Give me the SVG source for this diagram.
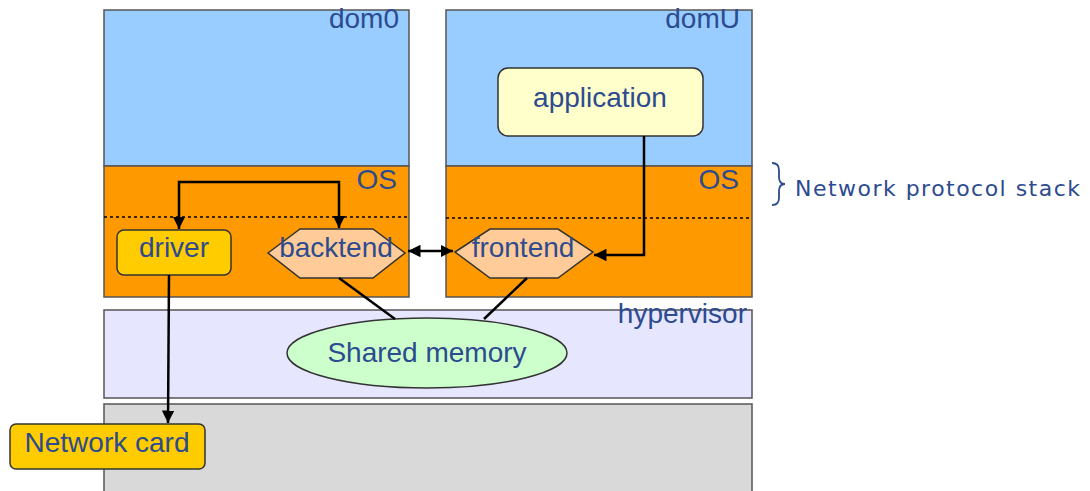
<svg xmlns="http://www.w3.org/2000/svg" width="1090" height="491" viewBox="0 0 1090 491">
<style>
  .box { stroke: #555; stroke-width: 1.5; }
  .node { stroke: #333; stroke-width: 1.5; }
  .lbl { font-family: "Liberation Sans", Arial, sans-serif; font-size: 28px; fill: #2d4b8f; }
  .ctr { text-anchor: middle; }
  .end { text-anchor: end; }
  .con { fill: none; stroke: #000; stroke-width: 2.5; }
  .dot { stroke: #000; stroke-width: 1.5; stroke-dasharray: 3 3; }
</style>
<defs>
  <marker id="arr" viewBox="0 0 10 10" refX="10" refY="5" markerWidth="5" markerHeight="5" orient="auto-start-reverse" markerUnits="strokeWidth">
    <path d="M0,0 L10,5 L0,10 Z" fill="#000"/>
  </marker>
</defs>
<rect width="1090" height="491" fill="#fff"/>

<g id="hardware">
  <rect class="box" x="104" y="404" width="648" height="92" fill="#d9d9d9"/>
</g>
<g id="hypervisor">
  <rect class="box" x="104" y="310" width="648" height="88" fill="#e6e6ff"/>
  <text class="lbl end" x="747" y="323">hypervisor</text>
</g>
<g id="dom0">
  <rect class="box" x="104" y="10" width="305" height="156" fill="#99ccff"/>
  <text class="lbl end" x="399" y="28">dom0</text>
</g>
<g id="dom0-os">
  <rect class="box" x="104" y="166" width="305" height="131" fill="#ff9900"/>
  <text class="lbl end" x="397" y="189">OS</text>
  <line class="dot" x1="104" y1="217" x2="409" y2="217"/>
</g>
<g id="domU">
  <rect class="box" x="446" y="10" width="306" height="156" fill="#99ccff"/>
  <text class="lbl end" x="740" y="28">domU</text>
</g>
<g id="domU-os">
  <rect class="box" x="446" y="166" width="306" height="131" fill="#ff9900"/>
  <text class="lbl end" x="739" y="189">OS</text>
  <line class="dot" x1="446" y1="218" x2="752" y2="218"/>
</g>

<g id="protocol-stack">
  <path d="M772,163 Q779,163 779,170 L779,177 Q779,184 785,184 Q779,184 779,191 L779,198 Q779,205 772,205" fill="none" stroke="#2d4b8f" stroke-width="1.8"/>
  <text x="795" y="196" style="font-family:'DejaVu Sans', sans-serif; font-size:22px; fill:#2d4b8f" textLength="285" lengthAdjust="spacing">Network protocol stack</text>
</g>

<g id="application">
  <rect class="node" x="498" y="68" width="205" height="68" rx="10" fill="#ffffcc"/>
  <text class="lbl ctr" x="600" y="107">application</text>
</g>
<g id="driver">
  <rect class="node" x="117" y="230" width="114" height="45" rx="7" fill="#ffcc00"/>
  <text class="lbl ctr" x="174" y="257">driver</text>
</g>
<g id="backtend">
  <polygon class="node" points="268,253 300,229 373,229 405,253 373,278 300,278" fill="#ffcc99"/>
  <text class="lbl ctr" x="336" y="257">backtend</text>
</g>
<g id="frontend">
  <polygon class="node" points="455,252 490,229 558,229 593,252 558,278 490,278" fill="#ffcc99"/>
  <text class="lbl ctr" x="523" y="257">frontend</text>
</g>
<g id="shared-memory">
  <ellipse class="node" cx="427" cy="353" rx="140" ry="35" fill="#ccffcc"/>
  <text class="lbl ctr" x="427" y="362">Shared memory</text>
</g>
<g id="network-card">
  <rect class="node" x="10" y="424" width="195" height="45" rx="6" fill="#ffcc00"/>
  <text class="lbl ctr" x="107" y="452">Network card</text>
</g>

<g id="connectors">
  <path class="con" d="M179,229 V182 H339 V228" marker-start="url(#arr)" marker-end="url(#arr)"/>
  <path class="con" d="M644,136 V255 H594" marker-end="url(#arr)"/>
  <line class="con" x1="408" y1="251" x2="453" y2="251" marker-start="url(#arr)" marker-end="url(#arr)"/>
  <line class="con" x1="339" y1="278" x2="395" y2="319"/>
  <line class="con" x1="527" y1="278" x2="484" y2="319"/>
  <line class="con" x1="169" y1="275" x2="168" y2="423" marker-end="url(#arr)"/>
</g>
</svg>
